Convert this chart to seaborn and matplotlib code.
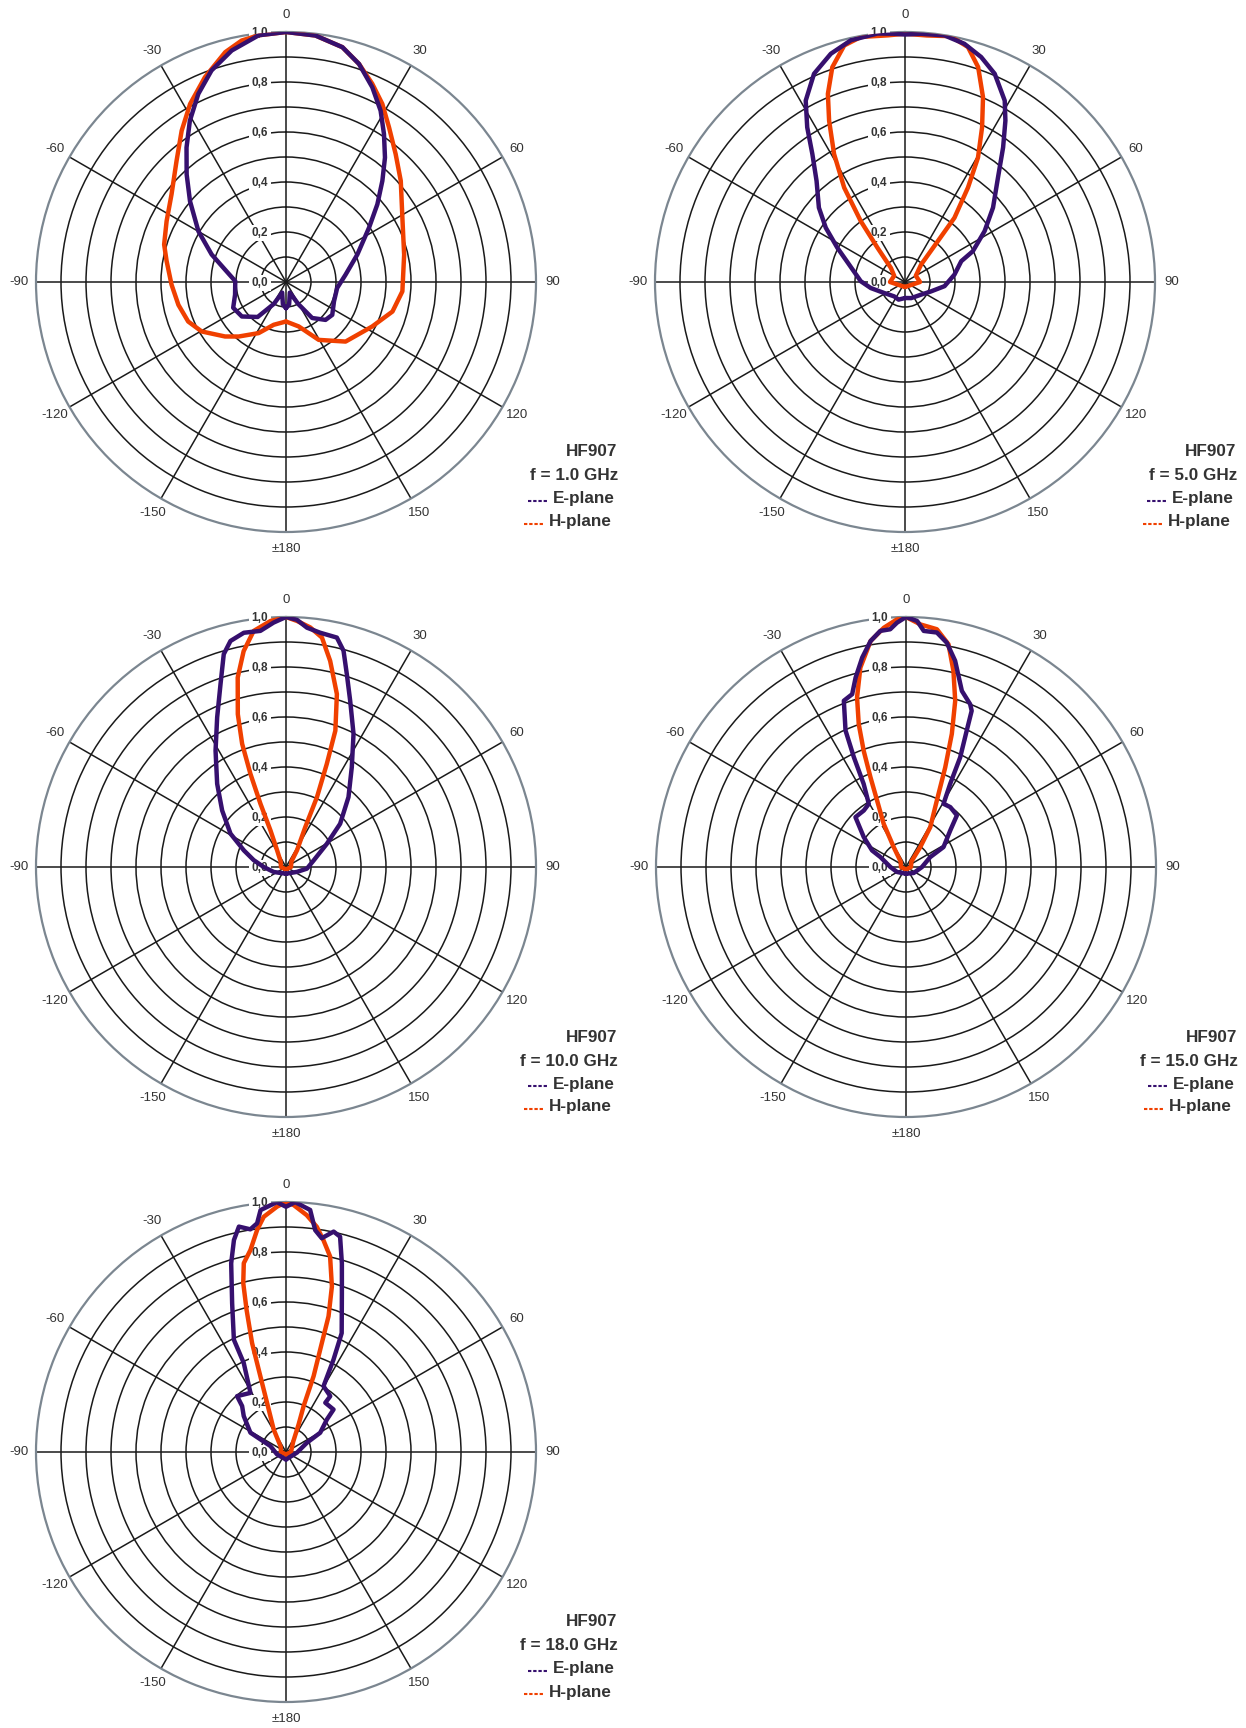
import numpy as np
import matplotlib
matplotlib.use("Agg")
import matplotlib.pyplot as plt
from matplotlib.lines import Line2D
import seaborn as sns

sns.set_theme(style="white")
plt.rcParams["font.family"] = ["Liberation Sans", "DejaVu Sans"]

# ---------------------------------------------------------------- data
MODEL = "HF907"
FREQS = ["1.0", "5.0", "10.0", "15.0", "18.0"]

SPOKE_DEG = [0, 30, 60, 90, 120, 150, 180, 210, 240, 270, 300, 330]
SPOKE_LABELS = ["0", "30", "60", "90", "120", "150", "\u00b1180",
                "-150", "-120", "-90", "-60", "-30"]
RING_STEPS = [0.1, 0.2, 0.3, 0.4, 0.5, 0.6, 0.7, 0.8, 0.9]
RADIAL_TICKS = [1.0, 0.8, 0.6, 0.4, 0.2, 0.0]
RADIAL_LABELS = ["1,0", "0,8", "0,6", "0,4", "0,2", "0,0"]

# f = 1.0 GHz
E1_DEG = [-180, -172, -160, -151, -141, -128, -116, -104, -89, -78.5, -69.7,
          -59.9, -49.9, -42.7, -36.5, -30.8, -25, -19.4, -13.2, -6.3, 0, 6.8,
          13.5, 18.5, 23.9, 28.9, 33.5, 38.5, 43.6, 49.6, 56.8, 68.9, 83, 96.7,
          112, 125.4, 133.8, 144, 151, 160, 172, 180]
E1_VAL = [0.105, 0.09, 0.045, 0.10, 0.18, 0.224, 0.235, 0.21, 0.203, 0.249,
          0.317, 0.405, 0.502, 0.586, 0.669, 0.751, 0.83, 0.897, 0.951, 0.993,
          1.0, 0.993, 0.966, 0.92, 0.852, 0.783, 0.71, 0.636, 0.559, 0.48,
          0.397, 0.306, 0.24, 0.206, 0.207, 0.227, 0.219, 0.178, 0.10, 0.045,
          0.09, 0.105]
H1_DEG = [-180, -164, -151.8, -139, -131.8, -120.4, -112, -102, -91.3, -80,
          -72.9, -63, -52.5, -42.1, -34.6, -28.3, -21.6, -14.8, -10.4, -6.3, 0,
          6.8, 13.5, 18.5, 23.5, 28.4, 33.7, 40.6, 48.6, 62.4, 77, 94.6, 105.5,
          117.3, 135, 150.5, 164, 180]
H1_VAL = [0.158, 0.178, 0.232, 0.289, 0.327, 0.391, 0.422, 0.44, 0.458, 0.485,
          0.51, 0.536, 0.577, 0.653, 0.735, 0.809, 0.881, 0.951, 0.982, 0.993,
          1.0, 0.993, 0.966, 0.92, 0.865, 0.81, 0.743, 0.674, 0.612, 0.526,
          0.485, 0.467, 0.442, 0.388, 0.337, 0.266, 0.185, 0.158]

# f = 5.0 GHz
E5_DEG = [-180, -160, -143, -118, -100, -89, -72.7, -63.2, -55.6, -49.2,
          -41.2, -35.9, -32.3, -28.7, -23.6, -18, -12.6, -6.3, -2.5, 0, 3.7,
          9.1, 14, 18.7, 23.3, 28.8, 31.9, 36.1, 41.7, 49.8, 57.4, 65.6, 69.7,
          81.5, 96, 109.7, 128, 159, 180]
E5_VAL = [0.064, 0.075, 0.072, 0.094, 0.139, 0.177, 0.234, 0.303, 0.384,
          0.455, 0.537, 0.632, 0.732, 0.827, 0.909, 0.96, 0.991, 1.0, 0.994,
          0.99, 0.995, 0.999, 0.982, 0.95, 0.907, 0.828, 0.76, 0.666, 0.559,
          0.461, 0.378, 0.298, 0.24, 0.2, 0.159, 0.111, 0.082, 0.069, 0.064]
H5_DEG = [-180, -90, -60, -45, -38.8, -36, -32.8, -29, -25.2, -22.3, -18.7,
          -14.4, -10.2, -4, 0, 5, 10.5, 15, 18.8, 22.9, 26.5, 30.4, 33.7, 37.6,
          38.8, 42.7, 60, 90, 180]
H5_VAL = [0.02, 0.06, 0.05, 0.08, 0.175, 0.301, 0.449, 0.585, 0.713, 0.813,
          0.907, 0.977, 0.996, 0.989, 0.993, 0.99, 1.0, 0.973, 0.908, 0.802,
          0.691, 0.577, 0.454, 0.324, 0.209, 0.095, 0.05, 0.06, 0.02]

# f = 10.0 GHz
E10_DEG = [-180, -112, -90, -78, -68.5, -59, -48.5, -39.6, -31.2, -24.7,
           -19.7, -16.3, -13.8, -10.2, -6.2, -2.9, 0, 2.5, 5, 8.3, 12.5, 14.9,
           17.5, 21.1, 26.9, 33.4, 41.8, 51.4, 60.4, 76.5, 94.5, 114, 180]
E10_VAL = [0.027, 0.053, 0.089, 0.132, 0.181, 0.259, 0.341, 0.432, 0.544,
           0.659, 0.777, 0.887, 0.931, 0.952, 0.95, 0.979, 1.0, 0.99, 0.961,
           0.947, 0.94, 0.895, 0.809, 0.713, 0.597, 0.478, 0.375, 0.277, 0.188,
           0.114, 0.084, 0.048, 0.027]
H10_DEG = [-180, -90, -45, -28, -23, -22, -20.9, -19.6, -17.5, -14.3, -11.1,
           -7.8, -3.6, 0, 2.6, 5.8, 8.9, 12.1, 16.4, 19.9, 21.6, 23.9, 25.8,
           33.4, 45, 90, 180]
H10_VAL = [0.01, 0.02, 0.03, 0.076, 0.159, 0.273, 0.399, 0.523, 0.641, 0.782,
           0.88, 0.953, 0.986, 1.0, 0.985, 0.963, 0.929, 0.843, 0.721, 0.58,
           0.443, 0.306, 0.177, 0.08, 0.03, 0.02, 0.01]

# f = 15.0 GHz
E15_DEG = [-180, -119, -90, -68.7, -64, -54.7, -45.4, -36.8, -30.5, -27,
           -25.4, -23.9, -20.5, -17.3, -14.9, -11.8, -8.9, -6.2, -3.8, -2.1, 0,
           2.6, 4.3, 7.5, 10.3, 13.4, 17.6, 21.5, 22.8, 24, 26.3, 28, 30.7,
           36.5, 44.6, 50.4, 62, 67.7, 90, 128, 180]
E15_VAL = [0.027, 0.041, 0.0625, 0.11, 0.151, 0.207, 0.284, 0.282, 0.293,
           0.373, 0.486, 0.597, 0.71, 0.724, 0.784, 0.856, 0.915, 0.95, 0.953,
           0.978, 1.0, 0.985, 0.947, 0.946, 0.912, 0.848, 0.739, 0.7, 0.678,
           0.597, 0.489, 0.376, 0.294, 0.298, 0.29, 0.23, 0.17, 0.105, 0.064,
           0.039, 0.027]
H15_DEG = [-180, -90, -45, -31.7, -27.3, -23.5, -21.6, -20, -18.3, -16.1,
           -12.9, -8.9, -5.3, -2.1, 0, 3.4, 7.4, 10.8, 13.6, 16.5, 19, 21.5,
           24.9, 31.3, 35.6, 45, 90, 180]
H15_VAL = [0.01, 0.02, 0.03, 0.094, 0.195, 0.29, 0.386, 0.495, 0.602, 0.706,
           0.818, 0.915, 0.961, 0.991, 1.0, 0.972, 0.959, 0.907, 0.807, 0.693,
           0.563, 0.428, 0.293, 0.187, 0.098, 0.03, 0.02, 0.01]

# f = 18.0 GHz
E18_DEG = [-180, -105, -69, -63.7, -61.5, -49.6, -43.7, -41.2, -31, -25.4,
           -24.9, -19.9, -16.2, -13.8, -11.8, -9.1, -7.2, -6, -2.1, 0, 2.1,
           5.7, 7.5, 9.5, 12.2, 14.1, 16.5, 19.4, 25.1, 27.2, 29.7, 38.4, 38.6,
           48.2, 51.5, 60.6, 66, 93, 180]
E18_VAL = [0.03, 0.037, 0.067, 0.114, 0.162, 0.222, 0.254, 0.297, 0.276,
           0.394, 0.495, 0.633, 0.786, 0.873, 0.921, 0.902, 0.922, 0.973, 1.0,
           0.981, 1.0, 0.973, 0.895, 0.867, 0.902, 0.888, 0.787, 0.673, 0.525,
           0.416, 0.303, 0.285, 0.252, 0.255, 0.209, 0.157, 0.092, 0.044, 0.03]
H18_DEG = [-180, -90, -45, -28.6, -22.1, -18.7, -17.3, -15.5, -14.2, -12.6,
           -10, -7.4, -5.4, -2.1, 0, 1.8, 5, 7.8, 10, 12.7, 15.5, 17.4, 18.2,
           20, 21, 24.6, 35, 90, 180]
H18_VAL = [0.01, 0.02, 0.03, 0.103, 0.184, 0.32, 0.456, 0.59, 0.697, 0.774,
           0.82, 0.896, 0.945, 0.982, 1.0, 0.988, 0.951, 0.909, 0.861, 0.802,
           0.687, 0.569, 0.459, 0.323, 0.197, 0.121, 0.05, 0.02, 0.01]

E_CURVES = [(E1_DEG, E1_VAL), (E5_DEG, E5_VAL), (E10_DEG, E10_VAL),
            (E15_DEG, E15_VAL), (E18_DEG, E18_VAL)]
H_CURVES = [(H1_DEG, H1_VAL), (H5_DEG, H5_VAL), (H10_DEG, H10_VAL),
            (H15_DEG, H15_VAL), (H18_DEG, H18_VAL)]

# ---------------------------------------------------------------- style
E_COLOR = "#36106e"
H_COLOR = "#f04000"
TEXT_COLOR = "#333333"
RIM_COLOR = "#7b8690"

W, H = 1246, 1728
R = 250
CENTERS = [(286, 282), (905, 282), (286, 867), (906, 867), (286, 1452)]

fig = plt.figure(figsize=(W / 100, H / 100), dpi=100)
fig.patch.set_facecolor("white")


def fx(x):
    return x / W


def fy(y):
    return 1 - y / H


for (cx, cy), freq, (edeg, eval_), (hdeg, hval) in zip(CENTERS, FREQS, E_CURVES, H_CURVES):
    ax = fig.add_axes([(cx - R) / W, 1 - (cy + R) / H, 2 * R / W, 2 * R / H],
                      projection="polar")
    ax.set_theta_zero_location("N")
    ax.set_theta_direction(-1)
    ax.set_ylim(0, 1)
    ax.set_yticks(RING_STEPS)
    ax.set_yticklabels([])
    ax.set_xticks(np.deg2rad(SPOKE_DEG))
    ax.set_xticklabels([])
    ax.tick_params(length=0, pad=0)
    ax.grid(True, color="#1a1a1a", lw=1.1)
    ax.spines["polar"].set_color(RIM_COLOR)
    ax.spines["polar"].set_linewidth(1.6)
    ax.set_facecolor("none")

    # radial scale labels along the 0-degree spoke
    for r, lab in zip(RADIAL_TICKS, RADIAL_LABELS):
        ax.annotate(lab, xy=(0, r), xytext=(-26, -1), textcoords="offset pixels",
                    ha="center", va="center", fontsize=8.5, fontweight="bold",
                    color=TEXT_COLOR, zorder=3, annotation_clip=False,
                    bbox=dict(boxstyle="square,pad=0.2", fc="white", ec="none"))

    # angle labels around the rim
    for a, lab in zip(SPOKE_DEG, SPOKE_LABELS):
        ax.text(np.deg2rad(a), 1.068, lab, ha="center", va="center",
                fontsize=9.5, color=TEXT_COLOR, clip_on=False)

    sns.lineplot(x=np.deg2rad(hdeg), y=hval, ax=ax, sort=False, estimator=None,
                 color=H_COLOR, lw=3.2, legend=False, zorder=5)
    sns.lineplot(x=np.deg2rad(edeg), y=eval_, ax=ax, sort=False, estimator=None,
                 color=E_COLOR, lw=3.2, legend=False, zorder=6)
    ax.set_xlabel("")
    ax.set_ylabel("")

    # legend block
    fig.text(fx(cx + 331), fy(cy + 170), MODEL, ha="right", va="center",
             fontsize=12.3, fontweight="bold", color=TEXT_COLOR)
    fig.text(fx(cx + 332), fy(cy + 194), f"f = {freq} GHz", ha="right", va="center",
             fontsize=12.3, fontweight="bold", color=TEXT_COLOR)
    fig.text(fx(cx + 329), fy(cy + 217), "E-plane", ha="right", va="center",
             fontsize=12.3, fontweight="bold", color=TEXT_COLOR)
    fig.text(fx(cx + 326), fy(cy + 240), "H-plane", ha="right", va="center",
             fontsize=12.3, fontweight="bold", color=TEXT_COLOR)
    fig.add_artist(Line2D([fx(cx + 242), fx(cx + 261)], [fy(cy + 219)] * 2,
                          transform=fig.transFigure, color=E_COLOR, lw=1.5,
                          dashes=(1.6, 0.9)))
    fig.add_artist(Line2D([fx(cx + 238), fx(cx + 257)], [fy(cy + 242)] * 2,
                          transform=fig.transFigure, color=H_COLOR, lw=1.5,
                          dashes=(1.6, 0.9)))

fig.savefig("out.png", dpi=100, facecolor="white")
